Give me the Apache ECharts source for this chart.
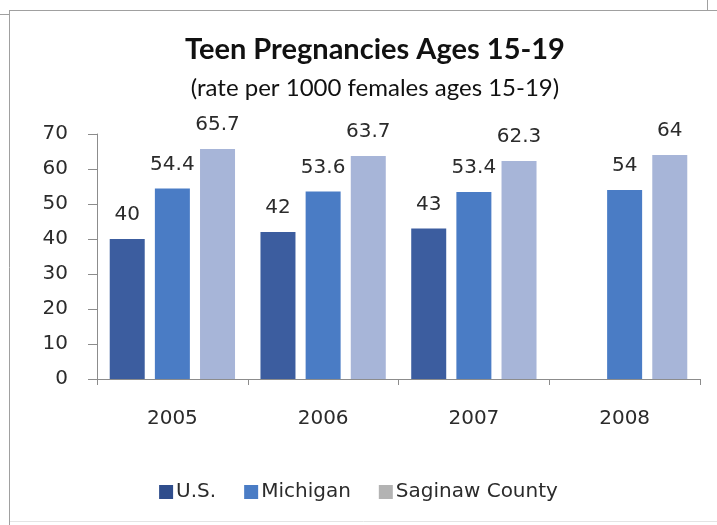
<!DOCTYPE html>
<html>
<head>
<meta charset="utf-8">
<script src="https://cdn.jsdelivr.net/npm/echarts@6/dist/echarts.min.js"></script>
<style>
  html, body { margin: 0; padding: 0; background: #fff; }
  #chart { width: 717px; height: 525px; }
</style>
</head>
<body>
<div id="chart"></div>
<script>
let years = ['2005', '2006', '2007', '2008'];
let usRates = [40, 42, 43, null];
let michiganRates = [54.4, 53.6, 53.4, 54];
let saginawRates = [65.7, 63.7, 62.3, 64];
let seriesNames = ['U.S.', 'Michigan', 'Saginaw County'];
let seriesColors = ['#3c5d9f', '#4a7cc5', '#a7b5d8'];

window.onload = function () {
    let chart = echarts.init(document.getElementById('chart'));
    let labelStyle = {
        show: true,
        position: 'top',
        distance: 14,
        fontFamily: 'DejaVu Sans',
        fontSize: 20,
        color: '#2b2b2b'
    };
    let makeSeries = function (i, values) {
        return {
            name: seriesNames[i],
            type: 'bar',
            data: values,
            barWidth: 35,
            barGap: '29%',
            itemStyle: { color: seriesColors[i] },
            label: labelStyle
        };
    };
    let option = {
        animation: false,
        title: {
            text: 'Teen Pregnancies Ages 15-19',
            subtext: '(rate per 1000 females ages 15-19)',
            left: 370,
            textAlign: 'center',
            top: 30,
            itemGap: 12,
            textStyle: { fontFamily: 'Lato', fontSize: 29, fontWeight: 'bold', color: '#111' },
            subtextStyle: { fontFamily: 'Lato', fontSize: 24, color: '#111' }
        },
        legend: {
            bottom: 18,
            left: 'center',
            itemWidth: 14,
            itemHeight: 14,
            itemGap: 28,
            icon: 'rect',
            textStyle: { fontFamily: 'DejaVu Sans', fontSize: 20, color: '#2b2b2b', padding: [0, 0, 0, -2] },
            data: [
                { name: seriesNames[0], itemStyle: { color: '#2f4d8c' } },
                { name: seriesNames[1], itemStyle: { color: '#4a7cc5' } },
                { name: seriesNames[2], itemStyle: { color: '#b3b3b3' } }
            ]
        },
        grid: { left: 97, right: 17, top: 134, bottom: 146 },
        xAxis: {
            type: 'category',
            data: years,
            axisLine: { lineStyle: { color: '#8c8c8c' } },
            axisTick: { show: true, length: 6, lineStyle: { color: '#8c8c8c' } },
            axisLabel: { margin: 30, fontFamily: 'DejaVu Sans', fontSize: 20, color: '#2b2b2b' }
        },
        yAxis: {
            type: 'value',
            min: 0,
            max: 70,
            interval: 10,
            splitLine: { show: false },
            axisLine: { show: true, lineStyle: { color: '#8c8c8c' } },
            axisTick: { show: true, length: 9, lineStyle: { color: '#8c8c8c' } },
            axisLabel: { margin: 29, fontFamily: 'DejaVu Sans', fontSize: 20, color: '#2b2b2b' }
        },
        graphic: [
            { type: 'line', shape: { x1: 9, y1: 10.5, x2: 717, y2: 10.5 }, style: { stroke: '#a0a0a0', lineWidth: 1 } },
            { type: 'line', shape: { x1: 0, y1: 14.5, x2: 9, y2: 14.5 }, style: { stroke: '#a0a0a0', lineWidth: 1 } },
            { type: 'line', shape: { x1: 9.5, y1: 10, x2: 9.5, y2: 525 }, style: { stroke: '#a0a0a0', lineWidth: 1 } },
            { type: 'line', shape: { x1: 707.5, y1: 0, x2: 707.5, y2: 10 }, style: { stroke: '#a0a0a0', lineWidth: 1 } },
            { type: 'line', shape: { x1: 10, y1: 521.5, x2: 717, y2: 521.5 }, style: { stroke: '#e4e4e4', lineWidth: 1 } }
        ],
        series: [
            makeSeries(0, usRates),
            makeSeries(1, michiganRates),
            makeSeries(2, saginawRates)
        ]
    };
    chart.setOption(option);
};
</script>
</body>
</html>
